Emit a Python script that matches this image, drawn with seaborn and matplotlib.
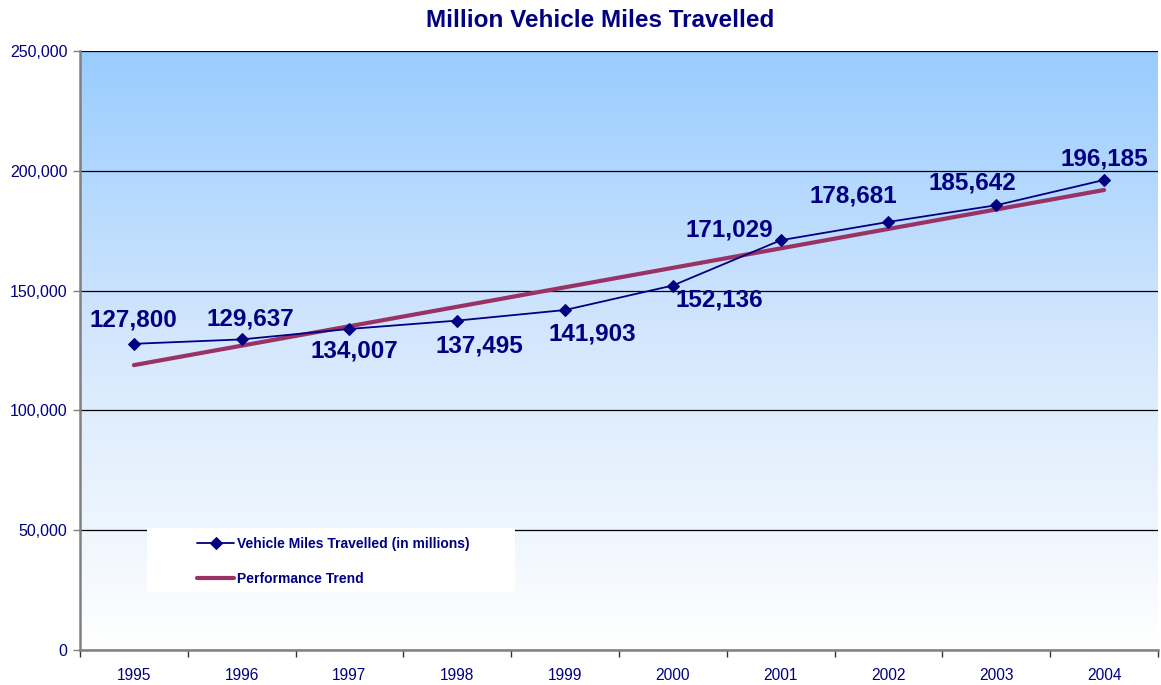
import numpy as np
import pandas as pd
import matplotlib
matplotlib.use("Agg")
import matplotlib.pyplot as plt
from matplotlib.patches import Rectangle
from matplotlib.ticker import FuncFormatter, FixedLocator
from matplotlib.colors import LinearSegmentedColormap
import seaborn as sns

years = ["1995", "1996", "1997", "1998", "1999", "2000", "2001", "2002", "2003", "2004"]
vmt = [127800, 129637, 134007, 137495, 141903, 152136, 171029, 178681, 185642, 196185]
trend_years = ["1995", "2004"]
trend_values = [118900, 192000]

# label offsets in pixels (dx, dy) relative to each point
label_offsets = [(-1, 24), (9, 20), (5, -22), (22, -25), (27, -24),
                 (46, -14), (-51, 10), (-35, 26), (-24, 22), (0, 21)]

navy = "#000080"
trend_color = "#993366"

sns.set_theme(style="white")
plt.rcParams["font.family"] = ["Liberation Sans", "DejaVu Sans"]

df = pd.DataFrame({"year": years, "vmt": vmt})
tdf = pd.DataFrame({"year": trend_years, "vmt": trend_values})

fig = plt.figure(figsize=(11.61, 6.85), dpi=100)
ax = fig.add_axes([0.0689, 0.0511, 0.9285, 0.8744])

# gradient background
grad = np.linspace(0, 1, 256).reshape(-1, 1)
cmap = LinearSegmentedColormap.from_list("bg", ["#FFFFFF", "#D6E8FD", "#99CCFF"])
ax.imshow(grad, extent=[-0.5, 9.5, 0, 250000], aspect="auto", cmap=cmap,
          origin="lower", zorder=0)

sns.lineplot(data=df, x="year", y="vmt", ax=ax, color=navy, linewidth=1.3,
             marker="D", markersize=6, markeredgecolor=navy,
             label="Vehicle Miles Travelled (in millions)", zorder=3)
sns.lineplot(data=tdf, x="year", y="vmt", ax=ax, color=trend_color, linewidth=3,
             label="Performance Trend", zorder=2)

for i, v in enumerate(vmt):
    dx, dy = label_offsets[i]
    ax.annotate(f"{v:,}", (i, v), xytext=(dx, dy), textcoords="offset pixels",
                ha="center", va="center", fontsize=17.5, fontweight="bold",
                color=navy, zorder=5)

ax.set_xlim(-0.5, 9.5)
ax.set_ylim(0, 250000)
ax.set_yticks(range(0, 250001, 50000))
ax.yaxis.set_major_formatter(FuncFormatter(lambda v, p: f"{int(v):,}"))
ax.grid(axis="y", color="black", linewidth=0.9)
ax.set_axisbelow(True)

for s in ["top", "right"]:
    ax.spines[s].set_visible(False)
for s in ["left", "bottom"]:
    ax.spines[s].set_color("#808080")
    ax.spines[s].set_linewidth(1.8)

ax.set_xticks(range(len(years)))
ax.set_xticklabels(years)
ax.xaxis.set_minor_locator(FixedLocator(np.arange(-0.5, 10, 1)))
ax.tick_params(axis="x", which="major", length=0, pad=13, labelsize=11.2, labelcolor=navy)
ax.tick_params(axis="x", which="minor", length=5, width=1, color="#333333", direction="out", bottom=True)
ax.tick_params(axis="y", length=5, width=1, color="#808080", left=True, labelsize=11.5,
               labelcolor=navy, pad=4)
ax.set_xlabel("")
ax.set_ylabel("")

fig.text(0.517, 0.97, "Million Vehicle Miles Travelled", fontsize=17.5, fontweight="bold",
         color=navy, ha="center", va="center")

# white legend box
ax.add_patch(Rectangle((0.062, 0.097), 0.3415, 0.107, transform=ax.transAxes,
                       facecolor="white", edgecolor="none", zorder=1))
leg = ax.legend(loc="center left", bbox_to_anchor=(0.1085, 0.148), frameon=False,
                fontsize=10, handlelength=2.7, handletextpad=0.2, labelspacing=1.55,
                borderpad=0, borderaxespad=0)
for t in leg.get_texts():
    t.set_color(navy)
    t.set_fontweight("bold")

fig.savefig("out.png", dpi=100)
